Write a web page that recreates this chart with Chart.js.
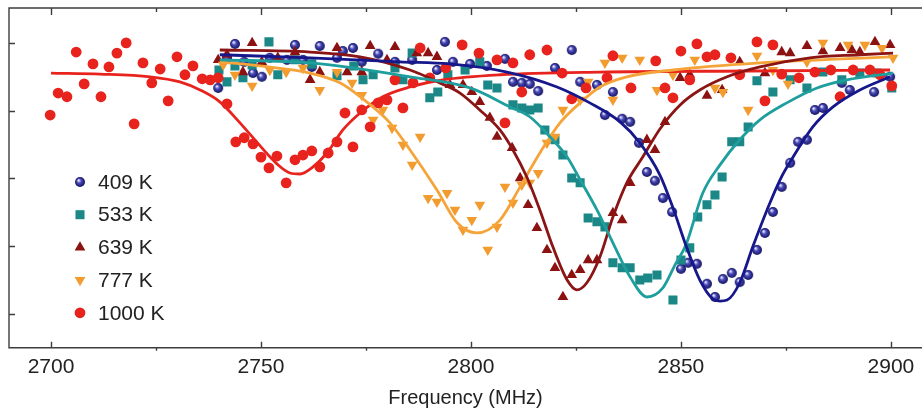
<!DOCTYPE html>
<html>
<head>
<meta charset="utf-8">
<title>ODMR spectra vs temperature</title>
<script src="https://cdn.jsdelivr.net/npm/chart.js@4.4.1/dist/chart.umd.min.js"></script>
<style>
  html, body { margin: 0; padding: 0; background: #fff; }
  canvas { display: block; }
</style>
</head>
<body>
<canvas id="myChart" width="922" height="412"></canvas>
<script>
const labels = ['409 K', '533 K', '639 K', '777 K', '1000 K']
const xTicks = [2700, 2725, 2750, 2775, 2800, 2825, 2850, 2875, 2900]
const yTicks = [92, 94, 96, 98, 100]

// measured points (MHz, normalised PL %)
const freq409 = [2739.8, 2741.9, 2743.8, 2746.0, 2748.1, 2750.2, 2752.1, 2756.2, 2758.1, 2760.0, 2762.1, 2764.0, 2768.1, 2769.5, 2771.9, 2774.0, 2777.9, 2781.9, 2786.0, 2791.9, 2793.8, 2795.7, 2799.8, 2803.8, 2808.1, 2810.0, 2812.1, 2814.0, 2816.0, 2820.0, 2824.0, 2826.0, 2830.0, 2831.9, 2833.8, 2836.0, 2837.9, 2840.0, 2841.9, 2843.8, 2845.7, 2847.9, 2850.0, 2851.7, 2853.8, 2856.2, 2858.1, 2860.0, 2862.1, 2864.0, 2866.0, 2868.1, 2870.0, 2871.9, 2874.0, 2876.0, 2877.9, 2880.0, 2881.9, 2883.8, 2888.3, 2890.2, 2896.0, 2899.8]
const pl409 = [98.67, 99.56, 99.97, 99.44, 99.11, 99.00, 99.56, 99.50, 99.94, 99.50, 99.29, 99.91, 99.56, 99.76, 99.85, 99.44, 99.68, 99.44, 99.50, 99.20, 100.03, 99.44, 99.38, 99.32, 99.53, 98.85, 98.82, 98.79, 98.58, 99.26, 99.79, 98.85, 98.76, 97.87, 98.55, 97.76, 97.67, 97.05, 96.19, 95.93, 95.42, 95.01, 93.33, 93.51, 93.48, 92.89, 92.50, 93.03, 93.21, 92.94, 93.15, 93.89, 94.39, 95.01, 95.75, 96.46, 97.08, 97.14, 98.02, 98.08, 98.82, 98.61, 98.55, 99.00]

const freq533 = [2740.0, 2741.9, 2743.8, 2745.7, 2747.9, 2751.9, 2754.0, 2758.1, 2762.1, 2768.1, 2772.1, 2774.3, 2776.7, 2781.9, 2783.8, 2786.0, 2790.2, 2792.1, 2794.5, 2798.6, 2802.1, 2804.0, 2806.2, 2810.0, 2812.1, 2814.0, 2816.0, 2817.6, 2820.0, 2821.9, 2824.0, 2826.0, 2827.9, 2830.0, 2831.9, 2833.8, 2836.0, 2837.9, 2840.2, 2842.1, 2844.3, 2848.1, 2850.0, 2852.1, 2854.0, 2856.2, 2858.1, 2859.8, 2862.1, 2864.0, 2866.0, 2868.1, 2871.9, 2876.0, 2880.0, 2883.8, 2888.3, 2892.6, 2896.7, 2900.2]
const pl533 = [99.20, 98.85, 99.32, 98.97, 99.35, 100.03, 99.06, 99.50, 99.38, 99.03, 99.32, 98.91, 99.06, 99.26, 98.91, 99.70, 98.38, 98.55, 99.06, 99.20, 99.44, 98.76, 98.67, 98.17, 98.08, 98.02, 98.08, 97.43, 97.14, 96.69, 96.01, 95.87, 94.83, 94.72, 94.57, 93.51, 93.36, 93.36, 93.00, 93.06, 93.15, 92.41, 93.59, 93.95, 94.86, 95.22, 95.51, 96.04, 97.08, 97.08, 97.52, 98.88, 98.55, 98.91, 98.67, 99.14, 98.91, 99.11, 99.11, 98.67]

const freq639 = [2739.8, 2741.9, 2745.7, 2747.9, 2750.2, 2754.0, 2758.1, 2761.7, 2764.0, 2768.1, 2770.5, 2774.0, 2776.0, 2780.0, 2781.9, 2787.1, 2789.8, 2791.9, 2795.0, 2798.1, 2800.2, 2802.1, 2804.5, 2806.2, 2809.8, 2811.7, 2813.6, 2815.7, 2818.1, 2820.0, 2821.9, 2824.0, 2826.0, 2827.9, 2830.0, 2833.8, 2836.0, 2837.9, 2841.9, 2843.8, 2846.2, 2849.8, 2852.1, 2856.2, 2859.8, 2864.0, 2870.0, 2874.0, 2876.0, 2880.0, 2883.8, 2887.9, 2890.7, 2892.6, 2896.2, 2899.8]
const pl639 = [99.50, 99.65, 99.14, 100.00, 99.44, 99.56, 99.73, 98.91, 99.14, 99.85, 99.14, 99.14, 99.91, 99.50, 99.88, 99.70, 99.70, 99.59, 98.76, 98.76, 98.55, 98.26, 97.79, 97.23, 96.90, 96.01, 95.22, 94.54, 93.89, 93.36, 92.50, 93.15, 93.30, 93.59, 93.59, 94.98, 94.77, 95.87, 97.14, 96.84, 97.67, 98.97, 99.06, 98.44, 98.61, 99.44, 99.11, 99.73, 99.70, 99.91, 99.76, 99.85, 99.79, 99.73, 100.03, 99.94]

const freq777 = [2741.0, 2743.8, 2747.9, 2752.1, 2756.0, 2760.0, 2764.0, 2768.1, 2771.7, 2774.0, 2776.7, 2779.0, 2781.2, 2783.8, 2786.0, 2787.9, 2789.8, 2791.9, 2794.3, 2796.2, 2798.1, 2800.2, 2802.1, 2804.0, 2806.2, 2808.1, 2810.0, 2812.1, 2814.0, 2816.0, 2818.1, 2820.0, 2821.9, 2826.0, 2827.9, 2831.9, 2833.8, 2836.0, 2840.2, 2844.3, 2848.1, 2853.3, 2858.1, 2860.0, 2866.0, 2868.1, 2871.9, 2875.5, 2880.0, 2883.8, 2889.8, 2893.8, 2897.9, 2900.5]
const pl777 = [99.35, 99.06, 98.73, 99.20, 99.14, 99.26, 98.61, 99.14, 98.82, 98.46, 97.73, 98.02, 97.49, 96.99, 96.40, 97.23, 95.42, 95.31, 95.57, 95.07, 94.48, 94.77, 95.22, 93.89, 94.57, 95.75, 95.28, 95.81, 95.87, 96.16, 97.05, 97.23, 98.02, 98.32, 98.85, 99.41, 98.32, 99.56, 99.50, 98.61, 99.06, 99.50, 98.67, 98.55, 98.02, 99.62, 99.20, 98.79, 99.44, 100.00, 99.94, 99.94, 99.85, 99.56]

const freq1000 = [2699.8, 2701.7, 2703.8, 2706.0, 2707.9, 2710.0, 2711.9, 2713.8, 2715.7, 2717.9, 2719.8, 2721.9, 2724.0, 2726.0, 2727.9, 2730.0, 2731.9, 2733.8, 2736.0, 2737.9, 2739.8, 2741.9, 2744.0, 2746.0, 2748.1, 2750.0, 2751.9, 2753.8, 2756.0, 2758.1, 2760.0, 2762.1, 2764.0, 2766.0, 2768.1, 2770.0, 2771.9, 2774.0, 2776.0, 2777.9, 2780.0, 2781.9, 2783.8, 2786.2, 2787.9, 2790.2, 2794.0, 2797.9, 2801.9, 2806.2, 2808.1, 2810.0, 2812.1, 2814.0, 2818.1, 2821.7, 2824.0, 2827.4, 2832.4, 2833.8, 2838.1, 2844.0, 2846.2, 2848.1, 2850.0, 2852.1, 2853.8, 2856.2, 2858.1, 2861.9, 2864.0, 2868.1, 2870.0, 2871.9, 2874.0, 2878.1, 2881.9, 2885.7, 2887.9, 2891.0, 2895.0, 2897.4, 2900.2]
const pl1000 = [97.87, 98.52, 98.41, 99.73, 98.79, 99.38, 98.41, 99.29, 99.70, 100.00, 97.61, 99.41, 98.82, 99.23, 98.29, 99.59, 99.06, 99.32, 98.94, 98.91, 98.97, 98.20, 97.08, 97.20, 97.02, 96.63, 96.31, 96.66, 95.87, 96.55, 96.69, 96.81, 96.34, 96.75, 97.08, 97.93, 96.93, 98.02, 97.52, 98.23, 98.32, 98.91, 98.08, 98.82, 99.85, 98.97, 99.26, 99.94, 99.70, 99.50, 97.64, 99.41, 98.55, 99.65, 99.79, 99.11, 98.35, 98.67, 98.97, 99.62, 98.67, 99.47, 98.67, 98.38, 99.76, 98.91, 99.97, 99.59, 99.65, 99.56, 99.06, 100.03, 98.29, 99.94, 99.08, 98.97, 99.14, 99.20, 98.41, 99.20, 99.20, 99.06, 98.73]

// fitted curves
const fitFreq409 = [2740.2, 2761.7, 2783.1, 2795.0, 2808.6, 2820.5, 2828.3, 2835.5, 2840.2, 2845.0, 2848.1, 2851.4, 2854.5, 2857.6, 2859.3, 2861.0, 2864.0, 2867.1, 2870.5, 2873.6, 2876.7, 2881.4, 2886.2, 2892.6, 2899.8]
const fitPl409 = [99.65, 99.56, 99.44, 99.38, 99.14, 98.70, 98.23, 97.67, 97.05, 96.10, 95.13, 93.95, 93.00, 92.44, 92.38, 92.41, 92.92, 93.98, 95.07, 95.96, 96.63, 97.52, 98.11, 98.61, 99.00]
const fitFreq533 = [2740.2, 2761.7, 2785.5, 2799.8, 2809.3, 2814.0, 2818.8, 2822.9, 2826.0, 2830.0, 2833.8, 2837.9, 2841.9, 2845.7, 2848.6, 2851.2, 2855.2, 2859.3, 2864.0, 2868.8, 2875.2, 2882.4, 2889.5, 2900.5]
const fitPl533 = [99.50, 99.41, 99.00, 98.67, 98.11, 97.82, 97.23, 96.63, 95.96, 95.07, 94.10, 93.09, 92.50, 92.77, 93.45, 94.04, 95.57, 96.40, 97.14, 97.73, 98.23, 98.67, 98.91, 99.11]
const fitFreq639 = [2740.2, 2761.7, 2773.6, 2785.5, 2792.6, 2797.4, 2802.1, 2806.9, 2810.0, 2813.3, 2816.4, 2819.5, 2822.9, 2825.2, 2827.6, 2830.7, 2833.8, 2837.1, 2840.9, 2845.0, 2849.8, 2854.5, 2861.0, 2868.8, 2880.7, 2892.6, 2900.5]
const fitPl639 = [99.79, 99.73, 99.59, 99.20, 98.82, 98.52, 98.02, 97.43, 96.84, 96.04, 95.07, 93.98, 93.00, 92.71, 92.92, 93.68, 94.86, 95.87, 96.63, 97.46, 98.17, 98.61, 99.00, 99.29, 99.56, 99.65, 99.70]
const fitFreq777 = [2740.2, 2749.8, 2761.7, 2768.8, 2773.6, 2780.7, 2785.5, 2791.9, 2796.7, 2801.4, 2806.9, 2811.7, 2816.4, 2821.2, 2826.0, 2830.7, 2837.1, 2848.1, 2868.8, 2900.5]
const fitPl777 = [99.44, 99.32, 99.11, 98.82, 98.41, 97.64, 96.84, 95.66, 94.69, 94.39, 94.77, 95.75, 96.75, 97.64, 98.23, 98.70, 99.00, 99.20, 99.41, 99.59]
const fitFreq1000 = [2700.0, 2711.7, 2723.6, 2730.7, 2735.5, 2740.2, 2745.0, 2749.8, 2753.8, 2756.9, 2759.3, 2762.1, 2765.7, 2769.5, 2773.6, 2779.0, 2785.5, 2793.3, 2806.9, 2830.7, 2866.4, 2899.8]
const fitPl1000 = [99.11, 99.08, 99.00, 98.85, 98.61, 98.26, 97.64, 96.96, 96.43, 96.16, 96.13, 96.31, 96.75, 97.43, 97.93, 98.41, 98.70, 98.91, 99.06, 99.14, 99.17, 99.20]

const toPoints = (xs, ys) => xs.map((x, i) => ({ x, y: ys[i] }))

// shaded ball marker used for the 409 K series
function sphere (r) {
  const c = document.createElement('canvas')
  c.width = c.height = 2 * r + 2
  const g = c.getContext('2d')
  const m = r + 1
  const grad = g.createRadialGradient(m - r * 0.3, m - r * 0.35, 0.4, m, m, r)
  grad.addColorStop(0, '#e6e8ff')
  grad.addColorStop(0.4, '#4a4ab8')
  grad.addColorStop(1, '#12125f')
  g.fillStyle = grad
  g.beginPath()
  g.arc(m, m, r, 0, Math.PI * 2)
  g.fill()
  return c
}

const markers = [
  { color: '#1c1c8c', line: '#17178c', style: sphere(5), radius: 5, rotation: 0 },
  { color: '#1b8787', line: '#1f9e9e', style: 'rect', radius: 6.4, rotation: 0 },
  { color: '#8c1212', line: '#8b1414', style: 'triangle', radius: 6.2, rotation: 0 },
  { color: '#f29b2f', line: '#f5a43a', style: 'triangle', radius: 6.2, rotation: 180 },
  { color: '#e8231d', line: '#e8231d', style: 'circle', radius: 5.4, rotation: 0 }
]

const measured = [
  toPoints(freq409, pl409),
  toPoints(freq533, pl533),
  toPoints(freq639, pl639),
  toPoints(freq777, pl777),
  toPoints(freq1000, pl1000)
]
const fits = [
  toPoints(fitFreq409, fitPl409),
  toPoints(fitFreq533, fitPl533),
  toPoints(fitFreq639, fitPl639),
  toPoints(fitFreq777, fitPl777),
  toPoints(fitFreq1000, fitPl1000)
]

const datasets = []
fits.forEach((data, i) => {
  datasets.push({
    type: 'line',
    label: labels[i] + ' fit',
    data,
    borderColor: markers[i].line,
    borderWidth: 2.8,
    pointRadius: 0,
    fill: false,
    cubicInterpolationMode: 'monotone',
    order: 0
  })
})
measured.forEach((data, i) => {
  datasets.push({
    type: 'scatter',
    label: labels[i],
    data,
    backgroundColor: markers[i].color,
    pointStyle: markers[i].style,
    pointRadius: markers[i].radius,
    pointRotation: markers[i].rotation,
    pointBorderWidth: 0,
    borderWidth: 0,
    order: 5 - i
  })
})

const axisColor = '#3d3d3d'

const frame = {
  id: 'frame',
  afterDraw (chart) {
    const { ctx, chartArea: a, scales: { x, y } } = chart
    ctx.save()
    ctx.strokeStyle = axisColor
    ctx.lineWidth = 1.4
    ctx.beginPath()
    ctx.moveTo(a.right + 2, a.top)
    ctx.lineTo(a.left, a.top)
    ctx.lineTo(a.left, a.bottom)
    ctx.lineTo(a.right + 2, a.bottom)
    xTicks.forEach(v => {
      const px = Math.round(x.getPixelForValue(v)) + 0.5
      const major = v % 50 === 0
      ctx.moveTo(px, a.top)
      ctx.lineTo(px, a.top + (major ? 7 : 4))
      ctx.moveTo(px, a.bottom)
      ctx.lineTo(px, major ? a.bottom - 6 : a.bottom + 3)
    })
    yTicks.forEach(v => {
      const py = Math.round(y.getPixelForValue(v)) + 0.5
      ctx.moveTo(a.left, py)
      ctx.lineTo(a.left + 6, py)
    })
    ctx.stroke()
    ctx.restore()
  }
}

const legendBox = {
  id: 'legendBox',
  afterDraw (chart) {
    const { ctx } = chart
    ctx.save()
    labels.forEach((text, i) => {
      const m = markers[i]
      const rowY = 182 + i * 32.7
      ctx.fillStyle = m.color
      Chart.helpers.drawPoint(ctx, { pointStyle: m.style, radius: m.radius, rotation: m.rotation, borderWidth: 0 }, 80, rowY)
      ctx.fillStyle = '#222'
      ctx.font = '21px "Liberation Sans", Arial, sans-serif'
      ctx.textBaseline = 'middle'
      ctx.textAlign = 'left'
      ctx.fillText(text, 98, rowY + 1)
    })
    ctx.restore()
  }
}

Chart.defaults.font.family = '"Liberation Sans", Arial, sans-serif'
Chart.defaults.color = '#222'

const ctx = document.getElementById('myChart')
new Chart(ctx, {
  type: 'scatter',
  data: { datasets },
  options: {
    responsive: false,
    animation: false,
    devicePixelRatio: 1,
    layout: { autoPadding: false, padding: { left: 9, top: 8, right: 0, bottom: 0 } },
    plugins: {
      legend: { display: false },
      tooltip: { enabled: false }
    },
    scales: {
      x: {
        type: 'linear',
        min: 2690,
        max: 2907.4,
        grid: { display: false, drawTicks: false },
        border: { display: false },
        afterBuildTicks: scale => {
          scale.ticks = xTicks.map(value => ({ value }))
        },
        afterFit: scale => {
          scale.paddingLeft = 0
          scale.paddingRight = 0
        },
        ticks: {
          padding: 6.5,
          autoSkip: false,
          maxRotation: 0,
          color: '#222',
          font: { size: 21 },
          callback: value => (value % 50 === 0 ? String(value) : '')
        },
        title: {
          display: true,
          text: 'Frequency (MHz)',
          color: '#222',
          font: { size: 20 },
          padding: { top: 0, bottom: 2 }
        }
      },
      y: {
        type: 'linear',
        display: false,
        min: 91,
        max: 101.03
      }
    }
  },
  plugins: [frame, legendBox]
})
</script>
</body>
</html>
